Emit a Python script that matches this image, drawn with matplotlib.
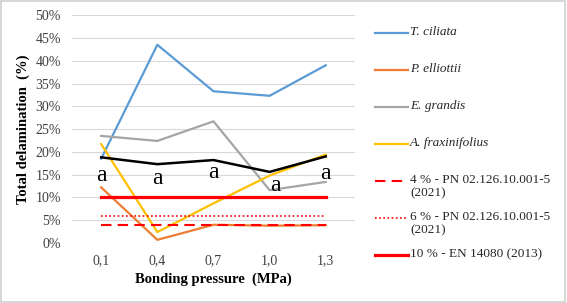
import matplotlib.pyplot as plt
from matplotlib.lines import Line2D
from matplotlib.patches import Rectangle
import matplotlib.ticker as mticker

plt.rcParams['font.family'] = ['Liberation Serif', 'DejaVu Serif']

pressures = ["0,1", "0,4", "0,7", "1,0", "1,3"]
t_ciliata = [18.5, 43.5, 33.3, 32.3, 39.0]
p_elliottii = [12.2, 0.7, 4.0, 3.8, 3.9]
e_grandis = [23.5, 22.4, 26.7, 11.6, 13.4]
a_fraxinifolius = [21.7, 2.4, 8.7, 14.8, 19.4]
mean_line = [18.8, 17.3, 18.2, 15.6, 19.0]
letters = ["a", "a", "a", "a", "a"]
letter_y = [14.9, 14.2, 15.4, 12.7, 15.3]
limit_4 = [4, 4, 4, 4, 4]
limit_6 = [6, 6, 6, 6, 6]
limit_10 = [10, 10, 10, 10, 10]

labels = ["T. ciliata", "P. elliottii", "E. grandis", "A. fraxinifolius",
          "4 % - PN 02.126.10.001-5\n(2021)", "6 % - PN 02.126.10.001-5\n(2021)",
          "10 % - EN 14080 (2013)"]
colors = ["#5B9BD5", "#ED7D31", "#A5A5A5", "#FFC000", "#FF0000", "#FF0000", "#FF0000"]
styles = ["-", "-", "-", "-", (0, (5, 3)), (0, (1, 1.5)), "-"]
widths = [1.6, 1.6, 1.6, 1.6, 1.5, 1.2, 2.3]

fig = plt.figure(figsize=(5.67, 3.03), dpi=100)
ax = fig.add_axes([0.127, 0.198, 0.499, 0.752])
x = range(len(pressures))

series = [t_ciliata, p_elliottii, e_grandis, a_fraxinifolius, limit_4, limit_6, limit_10]
for vals, c, ls, lw in zip(series[:4], colors[:4], styles[:4], widths[:4]):
    ax.plot(x, vals, color=c, ls=ls, lw=lw, zorder=3)
ax.plot(x, mean_line, color="black", lw=1.8, zorder=4)
for vals, c, ls, lw in zip(series[4:], colors[4:], styles[4:], widths[4:]):
    ax.plot(x, vals, color=c, ls=ls, lw=lw, zorder=3.5)

dx = [0, 0, 0, 0.1, 0]
for i, (t, yv) in enumerate(zip(letters, letter_y)):
    ax.text(i + dx[i], yv, t, ha="center", va="center", fontsize=17, zorder=5)

ax.set_xlim(-0.52, 4.52)
ax.set_ylim(0, 50)
ax.set_xticks(list(x))
ax.set_xticklabels(pressures)
ax.set_yticks(range(0, 51, 5))
ax.yaxis.set_major_formatter(mticker.FuncFormatter(lambda v, p: f"{v:.0f}%"))
ax.tick_params(length=0, labelsize=10, colors="#404040", pad=8)
ax.grid(axis="y", color="#D9D9D9", lw=0.8)
ax.set_axisbelow(True)
for s in ax.spines.values():
    s.set_visible(False)
ax.set_xlabel("Bonding pressure  (MPa)", fontsize=10.5, fontweight="bold", labelpad=4)
ax.set_ylabel("Total delamination  (%)", fontsize=10.5, fontweight="bold", labelpad=4)

# legend drawn by hand to keep handles aligned with the first text line
top = 1 - 33 / 303
step = 37 / 303
for i, (lab, c, ls, lw) in enumerate(zip(labels, colors, styles, widths)):
    yy = top - i * step
    fig.add_artist(Line2D([375 / 567, 408 / 567], [yy, yy], color=c, ls=ls, lw=lw,
                          transform=fig.transFigure))
    style = "italic" if i < 4 else "normal"
    fig.text(410 / 567, yy + 7 / 303, lab, fontsize=9.5, style=style, color="#262626",
             va="top", ha="left", linespacing=1.1, transform=fig.transFigure)

fig.add_artist(Rectangle((0.002, 0.004), 0.995, 0.992, transform=fig.transFigure,
                         fill=False, edgecolor="#D0D0D0", lw=1.2))

fig.savefig("out.png", dpi=100)
